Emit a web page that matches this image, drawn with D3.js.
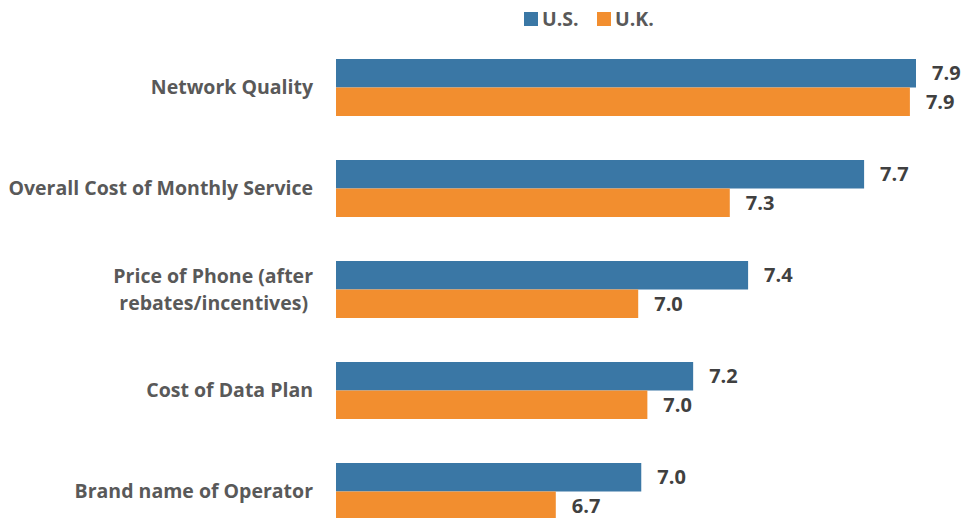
<!DOCTYPE html>
<html>
<head>
<meta charset="utf-8">
<script src="https://cdn.jsdelivr.net/npm/d3@7"></script>
<style>
  body { margin: 0; background: #fff; }
  svg text { font-family: "Open Sans", Lato, sans-serif; font-weight: bold; }
</style>
</head>
<body>
<div id="chart"></div>
<script>
const categories = ['Network Quality', 'Overall Cost of Monthly Service', 'Price of Phone (after|rebates/incentives)', 'Cost of Data Plan', 'Brand name of Operator'];
const seriesNames = ['U.S.', 'U.K.'];
const usValues = [7.9, 7.73, 7.35, 7.17, 7.0];
const ukValues = [7.88, 7.29, 6.99, 7.02, 6.72];
const colors = ['#3a77a5', '#f28e2f'];

const W = 962, H = 518;
const svg = d3.select('#chart').append('svg').attr('width', W).attr('height', H);

const x = d3.scaleLinear().domain([6, 7.9]).range([336, 916]);
const y0 = d3.scaleBand().domain(categories).range([59, 59 + 101 * 5 - 44]).paddingInner(44 / 101);
const y1 = d3.scaleBand().domain(seriesNames).range([0, y0.bandwidth()]);
const fmt = v => (Math.round(v * 10 + 1e-9) / 10).toFixed(1);

const rows = categories.map((c, i) => ({ cat: c, vals: [usValues[i], ukValues[i]] }));

const g = svg.selectAll('.grp').data(rows).join('g')
  .attr('transform', d => `translate(0,${y0(d.cat)})`);

g.selectAll('rect').data(d => d.vals.map((v, j) => ({ v, s: seriesNames[j], j }))).join('rect')
  .attr('x', x(6)).attr('y', d => y1(d.s))
  .attr('width', d => x(d.v) - x(6)).attr('height', y1.bandwidth())
  .attr('fill', d => colors[d.j]);

g.selectAll('.val').data(d => d.vals.map((v, j) => ({ v, s: seriesNames[j] }))).join('text')
  .attr('class', 'val')
  .attr('x', d => x(d.v) + 16).attr('y', d => y1(d.s) + y1.bandwidth() / 2)
  .attr('dy', '0.35em').attr('font-size', 20).attr('fill', '#404040')
  .text(d => fmt(d.v));

// category labels
g.each(function(d) {
  const lines = d.cat.split('|');
  const t = d3.select(this).append('text')
    .attr('text-anchor', 'end').attr('font-size', 19.5).attr('fill', '#595959');
  const mid = y0.bandwidth() / 2;
  lines.forEach((ln, k) => {
    t.append('tspan').attr('x', k === 0 ? 313 : 308)
      .attr('y', mid + (k - (lines.length - 1) / 2) * 27)
      .attr('dy', '0.35em').text(ln);
  });
});

// legend
const leg = svg.append('g');
const legX = [524, 597];
seriesNames.forEach((s, j) => {
  leg.append('rect').attr('x', legX[j]).attr('y', 12).attr('width', 14).attr('height', 14).attr('fill', colors[j]);
  leg.append('text').attr('x', legX[j] + 18).attr('y', 19).attr('dy', '0.35em')
    .attr('font-size', 19.5).attr('fill', '#595959').text(s);
});
</script>
</body>
</html>
